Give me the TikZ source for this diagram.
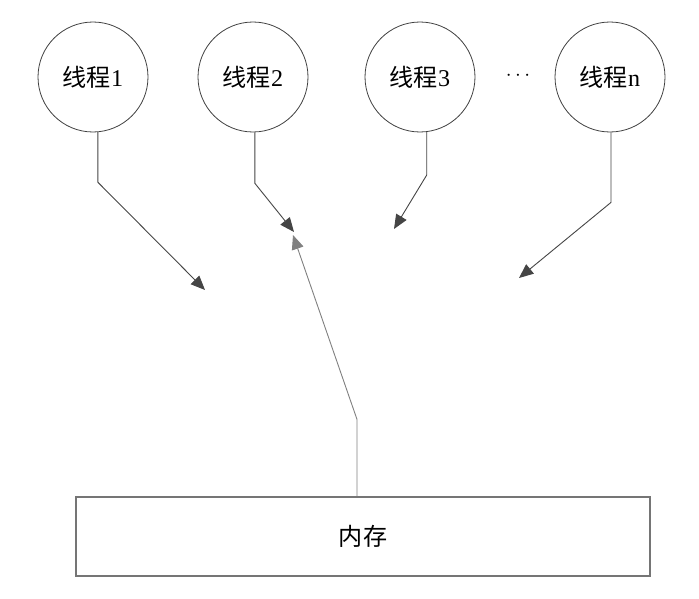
\documentclass[tikz,border=0pt]{standalone}
\usepackage{fontspec}
\setmainfont{Liberation Serif}
\newfontfamily\cjk{Noto Sans CJK SC}
\usetikzlibrary{arrows.meta,calc}
\definecolor{linedark}{HTML}{454545}
\definecolor{linegray}{HTML}{808080}
\definecolor{boxgray}{HTML}{757575}
\begin{document}
\begin{tikzpicture}[x=0.035cm,y=-0.035cm,
  thread/.style={circle,draw=black!75,line width=0.8pt,minimum size=3.85cm,inner sep=0pt,font=\fontsize{24}{28}\selectfont},
  membox/.style={rectangle,draw=boxgray,line width=1.2pt,minimum width=20.09cm,minimum height=2.765cm,inner sep=0pt,font=\fontsize{24}{28}\selectfont},
  tarrow/.style={draw=linedark,line width=0.9pt,-{Triangle[length=0.5cm,width=0.42cm]},color=linedark},
  marrow/.style={draw=linegray,line width=0.9pt,-{Triangle[length=0.5cm,width=0.42cm]},color=linegray}]
\useasboundingbox (0,0) rectangle (699,598);
\node[thread] (t1) at (93,77) {{\cjk 线程}1};
\node[thread] (t2) at (253,77) {{\cjk 线程}2};
\node[thread] (t3) at (420,77) {{\cjk 线程}3};
\node[thread] (tn) at (610,77) {{\cjk 线程}n};
\node[font=\fontsize{20}{24}\selectfont] (dots) at (518,76) {$\cdots$};
\node[membox] (mem) at (363,536.5) {\cjk 内存};
\coordinate (e1) at (205,290);
\coordinate (e2) at (294,232);
\coordinate (e3) at (394,229);
\coordinate (en) at (519,278);
\coordinate (em) at (293,235);
\draw[tarrow] (t1.-85) -- ++(0,50) -- (e1);
\draw[tarrow] (t2.-88) -- ++(0,51) -- (e2);
\draw[tarrow] (t3.-83) -- ++(0,43) -- (e3);
\draw[tarrow] ($(tn.south)+(1,0)$) -- ++(0,70) -- (en);
\draw[marrow] ($(mem.north)+(-6,0)$) -- ++(0,-77) -- (em);
\end{tikzpicture}
\end{document}
